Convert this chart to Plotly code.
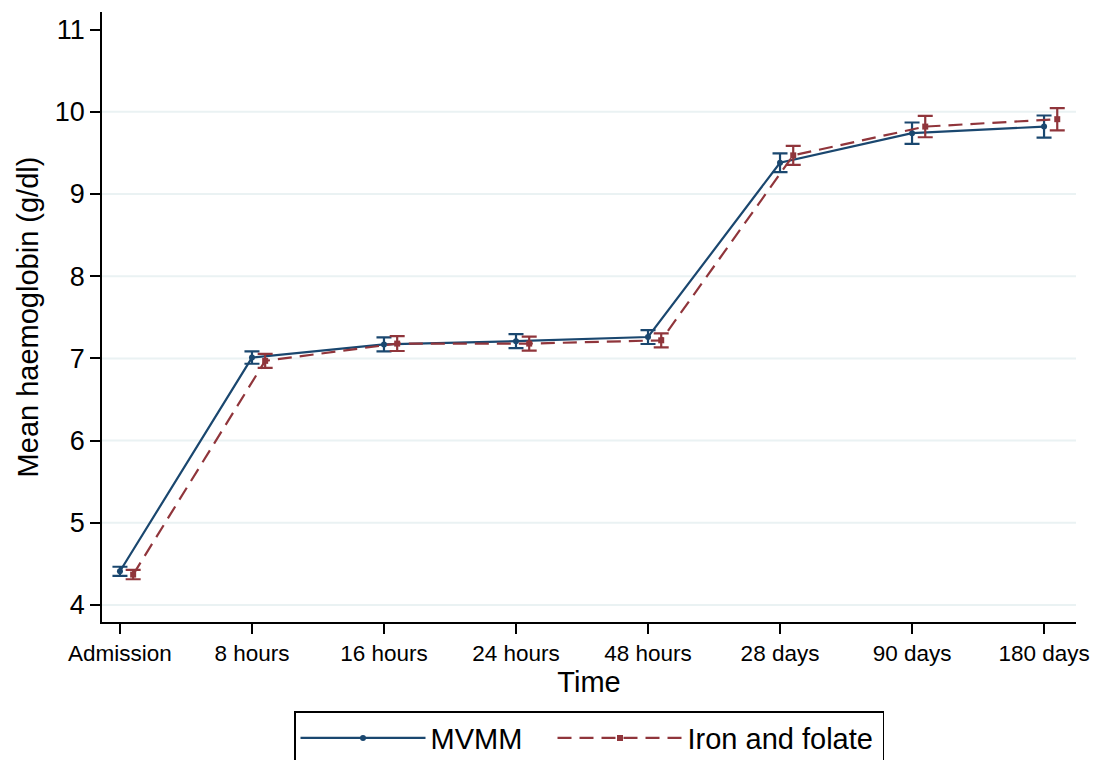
import plotly.graph_objects as go

# Time points
timepoints = ["Admission", "8 hours", "16 hours", "24 hours", "48 hours",
              "28 days", "90 days", "180 days"]

# Mean haemoglobin (g/dl) and half-width of the confidence interval
mvmm_mean = [4.41, 7.01, 7.17, 7.21, 7.26, 9.38, 9.74, 9.82]
mvmm_ci = [0.055, 0.075, 0.085, 0.085, 0.085, 0.115, 0.13, 0.135]

iron_mean = [4.37, 6.97, 7.18, 7.18, 7.22, 9.47, 9.82, 9.91]
iron_ci = [0.057, 0.085, 0.09, 0.085, 0.085, 0.115, 0.13, 0.135]

y_ticks = [4, 5, 6, 7, 8, 9, 10, 11]

NAVY = "#1a476f"
MAROON = "#90353b"
GRID = "#eaf2f3"
FONT = "Liberation Sans, Arial, sans-serif"

x_pos = list(range(len(timepoints)))
shift = 0.1  # small horizontal dodge so the two groups don't overlap

fig = go.Figure()

fig.add_trace(go.Scatter(
    x=x_pos, y=mvmm_mean, name="MVMM", mode="lines+markers",
    line=dict(color=NAVY, width=2.2),
    marker=dict(symbol="circle", size=6, color=NAVY),
    error_y=dict(type="data", array=mvmm_ci, visible=True,
                 color=NAVY, thickness=2.2, width=7.5),
    legendwidth=117,
))

fig.add_trace(go.Scatter(
    x=[p + shift for p in x_pos], y=iron_mean, name="Iron and folate",
    mode="lines+markers",
    line=dict(color=MAROON, width=2.2, dash="14px,8px"),
    marker=dict(symbol="square", size=6, color=MAROON),
    error_y=dict(type="data", array=iron_ci, visible=True,
                 color=MAROON, thickness=2.2, width=7.5),
    legendwidth=190,
))

# Horizontal grid lines at every labelled value except the top one
for v in y_ticks[:-1]:
    fig.add_shape(type="line", xref="paper", x0=0, x1=1, yref="y", y0=v, y1=v,
                  line=dict(color=GRID, width=2), layer="below")

fig.update_layout(
    width=1093, height=760,
    margin=dict(l=102, r=17, t=12, b=138, autoexpand=False),
    paper_bgcolor="white", plot_bgcolor="white",
    font=dict(family=FONT, color="black"),
    showlegend=True,
    legend=dict(
        orientation="h", x=0.5, xanchor="center", y=-0.146, yanchor="top",
        font=dict(size=29, family=FONT), bordercolor="black", borderwidth=1.5,
        bgcolor="white", itemwidth=125, tracegroupgap=0,
    ),
    xaxis=dict(
        range=[-0.136, 7.242], tickmode="array", tickvals=x_pos,
        ticktext=timepoints, tickfont=dict(size=22.5),
        ticks="outside", ticklen=10, tickwidth=1.5, tickcolor="black",
        showline=True, linecolor="black", linewidth=1.5, showgrid=False,
        zeroline=False,
        title=dict(text="Time", font=dict(size=29), standoff=2),
    ),
    yaxis=dict(
        range=[3.793, 11.214], tickmode="array", tickvals=y_ticks,
        tickfont=dict(size=27),
        ticks="outside", ticklen=10, tickwidth=1.5, tickcolor="black",
        showline=True, linecolor="black", linewidth=1.5, showgrid=False,
        zeroline=False,
        title=dict(text="Mean haemoglobin (g/dl)", font=dict(size=29), standoff=8),
    ),
)

fig.write_html("out.html")
